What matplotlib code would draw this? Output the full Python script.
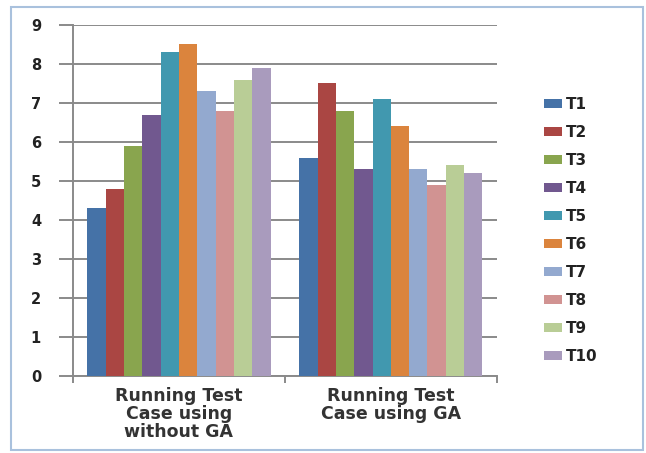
import numpy as np
import matplotlib.pyplot as plt
from matplotlib.patches import Patch, Rectangle

plt.rcParams['font.family'] = ['DejaVu Sans']

# test case timings for each run
categories = ['Running Test\nCase using\nwithout GA', 'Running Test\nCase using GA']
series_names = ['T1', 'T2', 'T3', 'T4', 'T5', 'T6', 'T7', 'T8', 'T9', 'T10']
without_ga = [4.3, 4.8, 5.9, 6.7, 8.3, 8.5, 7.3, 6.8, 7.6, 7.9]
with_ga = [5.6, 7.5, 6.8, 5.3, 7.1, 6.4, 5.3, 4.9, 5.4, 5.2]
y_ticks = [0, 1, 2, 3, 4, 5, 6, 7, 8, 9]

colors = ['#4572A7', '#AA4643', '#89A54E', '#71588F', '#4198AF',
          '#DB843D', '#93A9CF', '#D19392', '#B9CD96', '#A99BBD']

fig = plt.figure(figsize=(6.46, 4.53), dpi=100)
ax = fig.add_axes([0.113, 0.170, 0.656, 0.775])

x = np.arange(len(categories))
w = 0.0865
for i, name in enumerate(series_names):
    vals = [without_ga[i], with_ga[i]]
    ax.bar(x + (i - 4.5) * w, vals, width=w, color=colors[i], zorder=3)

ax.set_xlim(-0.5, 1.5)
ax.set_ylim(0, 9)
ax.set_yticks(y_ticks)
ax.yaxis.grid(True, color='#8a8a8a', linewidth=1.4, zorder=0)
ax.set_axisbelow(True)

for s in ['top', 'right']:
    ax.spines[s].set_visible(False)
for s in ['left', 'bottom']:
    ax.spines[s].set_color('#8a8a8a')
    ax.spines[s].set_linewidth(1.4)

ax.tick_params(axis='y', length=10, width=1.4, color='#8a8a8a', pad=13,
               labelsize=10.5, labelcolor='#222222')
for lab in ax.get_yticklabels():
    lab.set_fontweight('bold')

ax.set_xticks(x)
ax.set_xticklabels(categories, fontsize=12.5, fontweight='bold', color='#333333',
                   linespacing=1.0)
ax.tick_params(axis='x', which='major', length=0, pad=8)
ax.set_xticks([-0.5, 0.5, 1.5], minor=True)
ax.tick_params(axis='x', which='minor', length=5, width=1.4, color='#8a8a8a')

handles = [Patch(facecolor=c, edgecolor='none') for c in colors]
fig.legend(handles, series_names, loc='center left',
           bbox_to_anchor=(0.842, 0.492), frameon=False,
           prop={'size': 11, 'weight': 'bold'}, handlelength=1.2,
           handleheight=0.55, handletextpad=0.25, labelspacing=0.85,
           borderpad=0, borderaxespad=0, labelcolor='#222222')

# light frame around the whole chart
fig.patches.append(Rectangle((11 / 646, 1 - 450 / 453), 632 / 646, 443 / 453,
                             transform=fig.transFigure, fill=False,
                             edgecolor='#A9C1DD', linewidth=1.5))

fig.savefig('out.png', dpi=100)
